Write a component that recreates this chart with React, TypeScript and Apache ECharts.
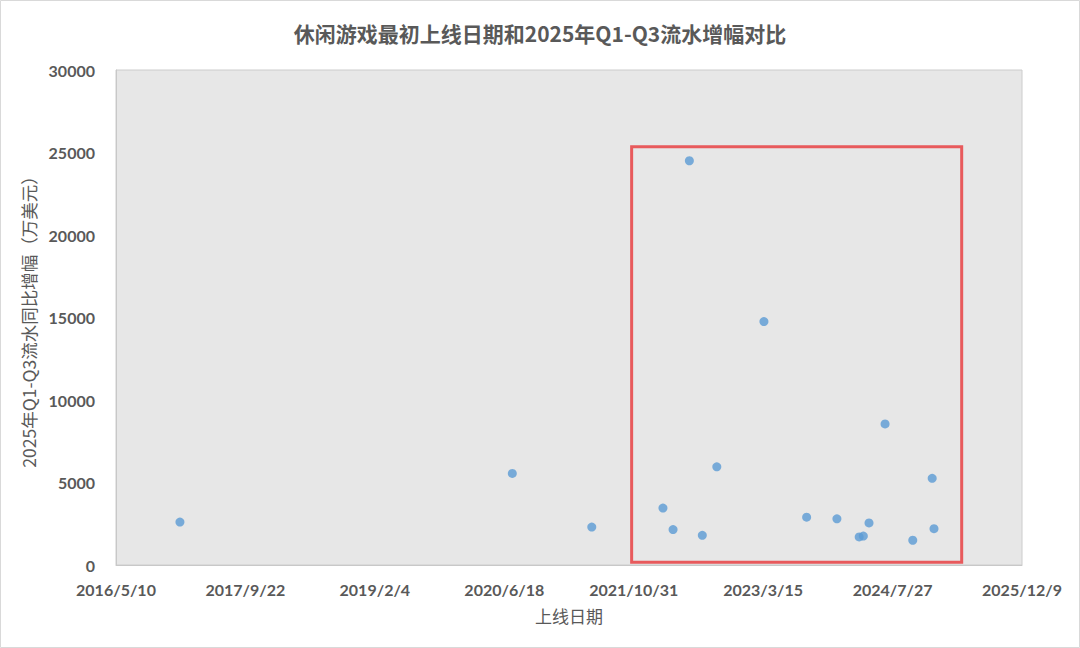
import React, { useEffect, useRef } from "react";
import * as echarts from "echarts";

const title = "休闲游戏最初上线日期和2025年Q1-Q3流水增幅对比";
const xAxisName = "上线日期";
const yAxisName = "2025年Q1-Q3流水同比增幅（万美元）";

// launch dates of the games
const launchDates = [
  "2017/1/12",
  "2020/7/19",
  "2021/5/22",
  "2022/2/21",
  "2022/4/1",
  "2022/6/3",
  "2022/7/23",
  "2022/9/17",
  "2023/3/18",
  "2023/8/30",
  "2023/12/25",
  "2024/3/20",
  "2024/4/5",
  "2024/4/27",
  "2024/6/28",
  "2024/10/13",
  "2024/12/27",
  "2025/1/3",
];

// YoY revenue growth, 10k USD
const growth = [
  2600, 5550, 2300, 3450, 2150, 24500, 1800, 5950, 14750, 2900, 2800, 1700,
  1750, 2550, 8550, 1500, 5250, 2200,
];

// highlighted region (dates and values)
const highlightFrom = ["2021/10/23", 160];
const highlightTo = ["2025/4/20", 25350];

// x-axis range expressed as dates (ticks every 500 days)
const xMinDate = "2016/5/10";
const xMaxDate = "2025/12/9";
const xTickDays = 500;

const yMin = 0;
const yMax = 30000;
const yInterval = 5000;

const EXCEL_EPOCH = Date.UTC(1899, 11, 30);
const DAY = 86400000;

function toSerial(s: string): number {
  const [y, m, d] = s.split("/").map(Number);
  return Math.round((Date.UTC(y, m - 1, d) - EXCEL_EPOCH) / DAY);
}

function fromSerial(n: number): string {
  const dt = new Date(EXCEL_EPOCH + Math.round(n) * DAY);
  return `${dt.getUTCFullYear()}/${dt.getUTCMonth() + 1}/${dt.getUTCDate()}`;
}

export default function App() {
  const ref = useRef<HTMLDivElement>(null);

  useEffect(() => {
    if (!ref.current) return;
    const chart = echarts.init(ref.current, undefined, { renderer: "svg" });
    const points = launchDates.map((d, i) => [toSerial(d), growth[i]]);
    const font = "'Noto Sans CJK SC', 'Noto Sans', sans-serif";
    const numFont = "Lato, 'Open Sans', sans-serif";

    chart.setOption({
      animation: false,
      backgroundColor: "#ffffff",
      textStyle: { fontFamily: font },
      title: {
        text: title,
        left: "center",
        top: 17,
        textStyle: {
          fontSize: 21,
          fontWeight: "bold",
          color: "#595959",
          fontFamily: font,
        },
      },
      graphic: [
        {
          type: "rect",
          shape: { x: 0.5, y: 0.5, width: 1079, height: 647 },
          style: { fill: "none", stroke: "#d9d9d9", lineWidth: 1 },
          silent: true,
        },
      ],
      grid: {
        left: 116,
        right: 58,
        top: 70,
        bottom: 83,
        show: true,
        backgroundColor: "#e7e7e7",
        borderColor: "#cccccc",
        borderWidth: 1,
      },
      xAxis: {
        type: "value",
        min: toSerial(xMinDate),
        max: toSerial(xMaxDate),
        interval: xTickDays,
        name: xAxisName,
        nameLocation: "middle",
        nameGap: 42,
        nameTextStyle: { fontSize: 17, color: "#595959" },
        axisLine: { show: true, lineStyle: { color: "#c8c8c8" } },
        axisTick: { show: false },
        splitLine: { show: false },
        axisLabel: {
          margin: 16,
          fontSize: 16,
          color: "#595959",
          fontWeight: "bold",
          fontFamily: numFont,
          formatter: (v: number) => fromSerial(v),
        },
      },
      yAxis: {
        type: "value",
        min: yMin,
        max: yMax,
        interval: yInterval,
        name: yAxisName,
        nameLocation: "middle",
        nameGap: 73,
        nameTextStyle: { fontSize: 17.5, color: "#595959" },
        axisLine: { show: true, lineStyle: { color: "#c8c8c8" } },
        axisTick: { show: false },
        splitLine: { show: false },
        axisLabel: {
          margin: 21,
          fontSize: 16,
          color: "#595959",
          fontWeight: "bold",
          fontFamily: numFont,
          formatter: (v: number) => String(v),
        },
      },
      series: [
        {
          type: "scatter",
          data: points,
          symbolSize: 9,
          itemStyle: { color: "#5b9bd5" },
          markArea: {
            silent: true,
            itemStyle: {
              color: "rgba(0,0,0,0)",
              borderColor: "#e85a5c",
              borderWidth: 3,
            },
            data: [
              [
                { coord: [toSerial(highlightFrom[0] as string), highlightFrom[1]] },
                { coord: [toSerial(highlightTo[0] as string), highlightTo[1]] },
              ],
            ],
          },
        },
      ],
    });

    return () => chart.dispose();
  }, []);

  return (
    <div
      ref={ref}
      style={{ position: "absolute", left: 0, top: 0, width: 1080, height: 648 }}
    />
  );
}
